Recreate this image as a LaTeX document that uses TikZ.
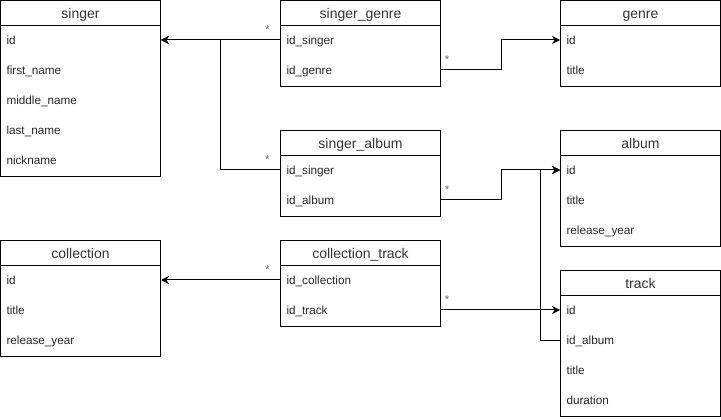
\documentclass[tikz,border=0pt]{standalone}
\usepackage{fontspec}
\setmainfont{Liberation Sans}
\usetikzlibrary{arrows.meta}

\tikzset{
  head/.style={font=\fontsize{10.5}{12}\selectfont,text=black!80,text height=10pt,text depth=2.3pt},
  row/.style={font=\fontsize{8.8}{10}\selectfont,text=black!85,inner xsep=4.5pt,inner ysep=0pt,text width=111pt,align=left,text height=9pt,text depth=2pt},
  fk/.style={line width=0.75pt,-{Stealth[length=6pt,width=6pt,inset=2pt]}},
  many/.style={font=\fontsize{8.5}{9}\selectfont,text=black!60,inner xsep=4.5pt,inner ysep=4.5pt},
  manyl/.style={many,above left,xshift=-3pt},
  manyr/.style={many,above right,xshift=-2pt}
}

\begin{document}
\begin{tikzpicture}[x=0.75pt,y=-0.75pt,line width=0.75pt]

\useasboundingbox (0,0) rectangle (721,420);

\draw (0.5,0.5) rectangle ++ (160,176);
\draw (0.5,26) -- ++ (160,0);
\draw (280.5,0.5) rectangle ++ (160,86);
\draw (280.5,26) -- ++ (160,0);
\draw (560.5,0.5) rectangle ++ (160,86);
\draw (560.5,26) -- ++ (160,0);

\draw (280.5,130.5) rectangle ++ (160,86);
\draw (280.5,156) -- ++ (160,0);
\draw (560.5,130.5) rectangle ++ (160,116);
\draw (560.5,156) -- ++ (160,0);

\draw (0.5,240.5) rectangle ++ (160,116);
\draw (0.5,266) -- ++ (160,0);
\draw (280.5,240.5) rectangle ++ (160,86);
\draw (280.5,266) -- ++ (160,0);
\draw (560.5,270.5) rectangle ++ (160,146);
\draw (560.5,296) -- ++ (160,0);

\node[head] (singer) at (80.5,13) {singer};
\node[row] (singer-id) at (80.5,40) {id};
\node[row] (singer-first) at (80.5,70) {first\_name};
\node[row] (singer-middle) at (80.5,100) {middle\_name};
\node[row] (singer-last) at (80.5,130) {last\_name};
\node[row] (singer-nick) at (80.5,160) {nickname};

\node[head] (sg) at (360.5,13) {singer\_genre};
\node[row] (sg-singer) at (360.5,40) {id\_singer};
\node[row] (sg-genre) at (360.5,70) {id\_genre};

\node[head] (genre) at (640.5,13) {genre};
\node[row] (genre-id) at (640.5,40) {id};
\node[row] (genre-title) at (640.5,70) {title};

\node[head] (sa) at (360.5,143) {singer\_album};
\node[row] (sa-singer) at (360.5,170) {id\_singer};
\node[row] (sa-album) at (360.5,200) {id\_album};

\node[head] (album) at (640.5,143) {album};
\node[row] (album-id) at (640.5,170) {id};
\node[row] (album-title) at (640.5,200) {title};
\node[row] (album-year) at (640.5,230) {release\_year};

\node[head] (coll) at (80.5,253) {collection};
\node[row] (coll-id) at (80.5,280) {id};
\node[row] (coll-title) at (80.5,310) {title};
\node[row] (coll-year) at (80.5,340) {release\_year};

\node[head] (ct) at (360.5,253) {collection\_track};
\node[row] (ct-coll) at (360.5,280) {id\_collection};
\node[row] (ct-track) at (360.5,310) {id\_track};

\node[head] (track) at (640.5,283) {track};
\node[row] (track-id) at (640.5,310) {id};
\node[row] (track-album) at (640.5,340) {id\_album};
\node[row] (track-title) at (640.5,370) {title};
\node[row] (track-dur) at (640.5,400) {duration};

% foreign keys
\draw[fk] (sg-singer.west) node[manyl] {*} -- (singer-id.east);
\draw[fk] (sa-singer.west) node[manyl] {*} -- ++ (-60,0) |- (singer-id.east);
\draw[fk] (sg-genre.east) node[manyr] {*} -- ++ (60,0) |- (genre-id.west);
\draw[fk] (sa-album.east) node[manyr] {*} -- ++ (60,0) |- (album-id.west);
\draw[fk] (track-album.west) -- ++ (-20,0) |- (album-id.west);
\draw[fk] (ct-track.east) node[manyr] {*} -- (track-id.west);
\draw[fk] (ct-coll.west) node[manyl] {*} -- (coll-id.east);

\end{tikzpicture}
\end{document}
